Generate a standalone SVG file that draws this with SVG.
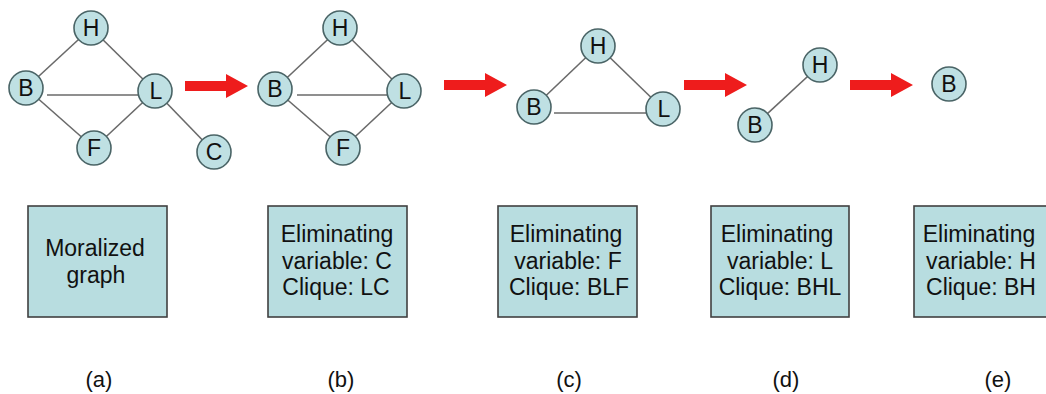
<svg xmlns="http://www.w3.org/2000/svg" width="1046" height="394" viewBox="0 0 1046 394">
  <style>
    .edge { stroke: #6a6a6a; stroke-width: 1.6; fill: none; }
    .node circle { fill: #bfe0e3; stroke: #4a6466; stroke-width: 1.6; }
    .node text { font-family: "Liberation Sans", Arial, sans-serif; font-size: 23px; fill: #111; text-anchor: middle; }
    .box rect { fill: #b8dde0; stroke: #404040; stroke-width: 1.6; }
    .box text { font-family: "Liberation Sans", Arial, sans-serif; font-size: 23px; fill: #111; text-anchor: middle; }
    .arrow { fill: #ee1c1c; }
    .caption { font-family: "Liberation Sans", Arial, sans-serif; font-size: 22px; fill: #111; text-anchor: middle; }
  </style>
  <defs>
    <!-- block arrow pointing right, tip at origin -->
    <path id="blockArrow" d="M -63 -5 L -22 -5 L -22 -12 L 0 0 L -22 12 L -22 5 L -63 5 Z"/>
  </defs>

  <rect x="0" y="0" width="1046" height="394" fill="#ffffff"/>

  <!-- connectors -->
  <g id="connectors">
    <!-- (a) moralized graph -->
    <line class="edge" x1="26" y1="88" x2="91" y2="28"/>
    <line class="edge" x1="91" y1="28" x2="155" y2="91"/>
    <line class="edge" x1="47" y1="95" x2="145" y2="95"/>
    <line class="edge" x1="26" y1="88" x2="94" y2="148"/>
    <line class="edge" x1="94" y1="148" x2="155" y2="91"/>
    <line class="edge" x1="155" y1="91" x2="214" y2="152"/>
    <!-- (b) -->
    <line class="edge" x1="275" y1="89" x2="340" y2="28"/>
    <line class="edge" x1="340" y1="28" x2="404" y2="91"/>
    <line class="edge" x1="297" y1="95" x2="394" y2="95"/>
    <line class="edge" x1="275" y1="89" x2="343" y2="148"/>
    <line class="edge" x1="343" y1="148" x2="404" y2="91"/>
    <!-- (c) -->
    <line class="edge" x1="534" y1="107" x2="598" y2="46"/>
    <line class="edge" x1="598" y1="46" x2="663" y2="109"/>
    <line class="edge" x1="554" y1="113" x2="652" y2="113"/>
    <!-- (d) -->
    <line class="edge" x1="755" y1="125" x2="820" y2="65"/>
  </g>

  <!-- step arrows -->
  <g id="steps">
    <use href="#blockArrow" class="arrow" transform="translate(248,86)"/>
    <use href="#blockArrow" class="arrow" transform="translate(507,85)"/>
    <use href="#blockArrow" class="arrow" transform="translate(747,85)"/>
    <use href="#blockArrow" class="arrow" transform="translate(913,85)"/>
  </g>

  <!-- (a) nodes -->
  <g id="a-H" class="node"><circle cx="91" cy="28" r="17"/><text x="91" y="36">H</text></g>
  <g id="a-B" class="node"><circle cx="26" cy="88" r="17"/><text x="26" y="96">B</text></g>
  <g id="a-L" class="node"><circle cx="155" cy="91" r="17"/><text x="156" y="99">L</text></g>
  <g id="a-F" class="node"><circle cx="94" cy="148" r="17"/><text x="94" y="156">F</text></g>
  <g id="a-C" class="node"><circle cx="214" cy="152" r="17"/><text x="214" y="160">C</text></g>

  <!-- (b) nodes -->
  <g id="b-H" class="node"><circle cx="340" cy="28" r="17"/><text x="340" y="36">H</text></g>
  <g id="b-B" class="node"><circle cx="275" cy="89" r="17"/><text x="275" y="97">B</text></g>
  <g id="b-L" class="node"><circle cx="404" cy="91" r="17"/><text x="405" y="99">L</text></g>
  <g id="b-F" class="node"><circle cx="343" cy="148" r="17"/><text x="343" y="156">F</text></g>

  <!-- (c) nodes -->
  <g id="c-H" class="node"><circle cx="598" cy="46" r="17"/><text x="598" y="54">H</text></g>
  <g id="c-B" class="node"><circle cx="534" cy="107" r="17"/><text x="534" y="115">B</text></g>
  <g id="c-L" class="node"><circle cx="663" cy="109" r="17"/><text x="664" y="117">L</text></g>

  <!-- (d) nodes -->
  <g id="d-H" class="node"><circle cx="820" cy="65" r="17"/><text x="820" y="73">H</text></g>
  <g id="d-B" class="node"><circle cx="755" cy="125" r="17"/><text x="755" y="133">B</text></g>

  <!-- (e) node -->
  <g id="e-B" class="node"><circle cx="949" cy="84" r="17"/><text x="949" y="92">B</text></g>

  <!-- step descriptions -->
  <g id="box-a" class="box">
    <rect x="28" y="206" width="139" height="111"/>
    <text x="95" y="256">Moralized</text>
    <text x="96" y="283">graph</text>
  </g>
  <g id="box-b" class="box">
    <rect x="268" y="206" width="139" height="111"/>
    <text x="337" y="242">Eliminating</text>
    <text x="337" y="268.5">variable: C</text>
    <text x="336" y="295">Clique: LC</text>
  </g>
  <g id="box-c" class="box">
    <rect x="498" y="206" width="139" height="111"/>
    <text x="566" y="242">Eliminating</text>
    <text x="568" y="268.5">variable: F</text>
    <text x="569" y="295">Clique: BLF</text>
  </g>
  <g id="box-d" class="box">
    <rect x="711" y="206" width="138" height="111"/>
    <text x="777" y="242">Eliminating</text>
    <text x="780" y="268.5">variable: L</text>
    <text x="780" y="295">Clique: BHL</text>
  </g>
  <g id="box-e" class="box">
    <rect x="914" y="206" width="140" height="111"/>
    <text x="979" y="242">Eliminating</text>
    <text x="981" y="268.5">variable: H</text>
    <text x="981" y="295">Clique: BH</text>
  </g>

  <!-- panel captions -->
  <g id="captions">
    <text class="caption" x="99" y="387">(a)</text>
    <text class="caption" x="341" y="387">(b)</text>
    <text class="caption" x="569" y="387">(c)</text>
    <text class="caption" x="786" y="387">(d)</text>
    <text class="caption" x="998" y="387">(e)</text>
  </g>
</svg>
